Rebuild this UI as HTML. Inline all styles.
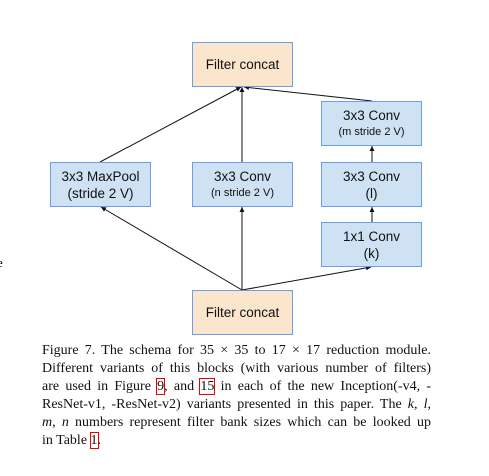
<!DOCTYPE html>
<html><head><meta charset="utf-8"><style>
body{margin:0;width:489px;height:476px;background:#fff;position:relative;overflow:hidden;font-family:"Liberation Sans",sans-serif}
.box{position:absolute;box-sizing:border-box;border:1px solid #6d9eeb;background:#cfe2f3;text-align:center;color:#111;font-size:13.5px;display:flex;flex-direction:column;justify-content:center;line-height:17px}
.or{background:#fce5cd}
.sm{font-size:11px}
#cap{position:absolute;left:42px;top:342px;width:389px;font-family:"Liberation Serif",serif;font-size:14px;line-height:18px;color:#111}
#cap div{text-align:justify;text-align-last:justify;white-space:nowrap}
#cap div.last{text-align-last:left}
.r{outline:1px solid #e00;outline-offset:0px}
</style></head><body>
<svg width="489" height="476" style="position:absolute;left:0;top:0">
<defs><marker id="a" markerWidth="6" markerHeight="6" refX="5" refY="3" orient="auto"><path d="M0,0.5L5,3L0,5.5z" fill="#111"/></marker></defs>
<g stroke="#111" stroke-width="1" fill="none" marker-end="url(#a)">
<line x1="242" y1="290" x2="101" y2="207"/>
<line x1="242" y1="290" x2="242" y2="207"/>
<line x1="242" y1="290" x2="371" y2="267"/>
<line x1="100" y1="162" x2="241" y2="87"/>
<line x1="242" y1="162" x2="242" y2="87"/>
<line x1="372" y1="101" x2="244" y2="87"/>
<line x1="372" y1="222" x2="372" y2="207"/>
<line x1="372" y1="162" x2="372" y2="146"/>
</g></svg>
<div class="box or" style="left:192px;top:42px;width:101px;height:45px">Filter concat</div>
<div class="box" style="left:321px;top:101px;width:101px;height:45px">3x3 Conv<span class="sm">(m stride 2 V)</span></div>
<div class="box" style="left:50px;top:162px;width:101px;height:45px">3x3 MaxPool<span>(stride 2 V)</span></div>
<div class="box" style="left:192px;top:162px;width:101px;height:45px">3x3 Conv<span class="sm">(n stride 2 V)</span></div>
<div class="box" style="left:321px;top:162px;width:101px;height:45px">3x3 Conv<span>(l)</span></div>
<div class="box" style="left:321px;top:222px;width:101px;height:45px">1x1 Conv<span>(k)</span></div>
<div class="box or" style="left:192px;top:290px;width:101px;height:45px">Filter concat</div>
<div style="position:absolute;left:-3px;top:255px;font-family:'Liberation Serif',serif;font-size:13px">e</div>
<div id="cap">
<div>Figure 7. The schema for 35 × 35 to 17 × 17 reduction module.</div>
<div>Different variants of this blocks (with various number of filters)</div>
<div>are used in Figure <span class="r">9</span>, and <span class="r">15</span> in each of the new Inception(-v4, -</div>
<div>ResNet-v1, -ResNet-v2) variants presented in this paper. The <i>k</i>, <i>l</i>,</div>
<div><i>m</i>, <i>n</i> numbers represent filter bank sizes which can be looked up</div>
<div class="last">in Table <span class="r">1</span>.</div>
</div>
</body></html>
